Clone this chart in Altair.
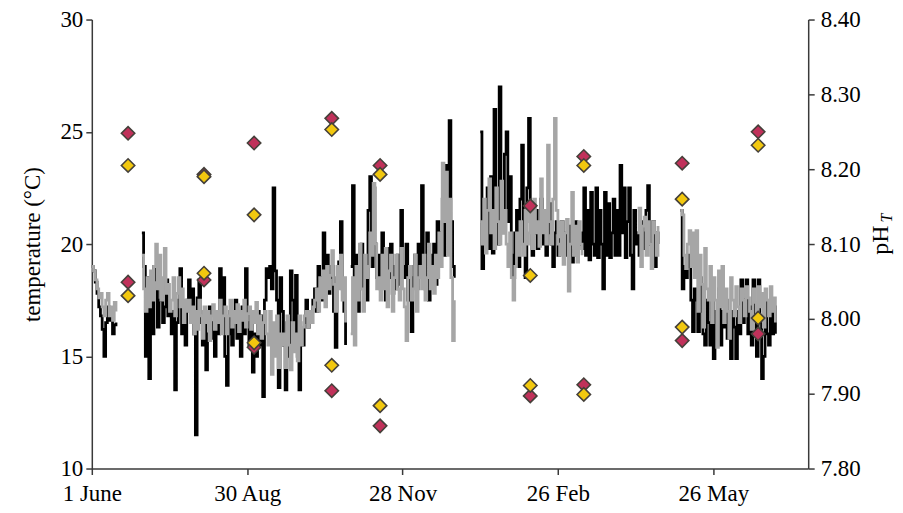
import altair as alt
import pandas as pd

# ---------------- axis ticks / labels ----------------
TICK_DAYS = [0, 90, 180, 270, 360]
TICK_LABELS = ["1 June", "30 Aug", "28 Nov", "26 Feb", "26 May"]
X_DOMAIN = [0, 415]
TEMP_TICKS = [10, 15, 20, 25, 30]
PH_TICKS = [7.8, 7.9, 8.0, 8.1, 8.2, 8.3, 8.4]

# ---------------- logger series (temperature, deg C), daily ----------------
BLACK_STARTS = [0, 29, 150, 225, 341]
BLACK_SEGMENTS = [
    [19.0, 18.8, 18.3, 17.8, 17.2, 16.8, 16.2, 15.0, 16.5, 17.2, 16.6, 16.9, 16.0, 16.4, 16.5],
    [20.5, 19.0, 15.0, 18.5, 14.0,
     17.5, 16.0, 19.0,
     18.4, 16.3, 17.5, 18.0, 16.5, 17.2, 18.4, 16.8, 17.0,
     16.0, 17.0, 13.5, 16.5,
     17.5, 18.9, 16.0, 17.0, 15.5, 17.5,
     18.4, 17.0, 18.0, 16.0, 11.5, 17.6, 18.4,
     16.5, 15.5, 17.0, 14.4, 16.0, 17.2, 15.8, 16.5, 15.0, 17.0, 16.0, 18.9, 16.5, 18.5, 15.0, 13.7,
     16.0, 17.0, 15.5, 16.5, 17.5, 15.8, 16.8, 15.0, 17.2, 16.0, 18.9, 16.5, 15.5, 17.0, 14.3, 16.0,
     15.0, 17.0, 15.5, 16.8, 13.2, 17.5, 18.9,
     18.5, 19.0, 18.0, 22.5, 18.8, 17.5, 13.6, 18.5, 17.0,
     15.5, 13.5, 16.5, 15.0, 18.8, 17.5, 16.0, 18.6, 15.0, 13.5, 16.0, 15.5,
     16.5, 17.5, 16.3, 17.0, 16.5, 17.5,
     18.0, 17.0, 19.0, 18.5, 17.5, 20.5, 18.0, 19.5, 17.8, 18.5, 19.0, 17.0, 15.4, 18.5, 19.2, 21.0,
     18.0, 17.0, 15.5],
    [19.0, 22.6, 18.0, 19.5, 17.0, 18.5, 20.0, 18.0, 19.0, 17.5,
     21.5, 23.0, 19.0, 22.5, 20.0, 18.5,
     19.5, 18.0, 20.5, 19.0, 17.5, 19.8, 18.5, 20.0, 17.8, 19.0, 18.0, 19.5, 18.2,
     21.5, 19.0, 18.5, 20.0, 17.5, 19.0, 16.1, 18.5, 19.5, 18.0, 20.0, 18.5, 22.6,
     19.0, 18.0, 20.5, 17.5, 19.5, 18.5, 20.0, 18.2, 21.0, 19.5,
     20.5, 22.0, 19.5, 23.5, 20.0, 25.5, 21.0, 19.0, 18.5],
    [25.0, 18.9, 21.5, 20.0, 22.5, 19.8, 23.0, 19.6, 26.0, 21.0, 20.0, 27.0, 22.0, 20.5,
     24.0, 25.0, 21.0, 23.0, 19.5, 18.5, 20.5, 21.5, 19.0, 22.0, 24.4, 20.0, 18.5, 22.5,
     25.6, 21.0, 19.5, 20.5, 21.5, 19.8, 20.8, 22.0, 20.0, 21.0, 19.5, 20.5, 21.8, 20.0,
     19.0, 20.5, 21.0, 19.5, 20.2, 21.0, 19.8, 20.5, 19.5, 20.8, 20.0, 19.2, 20.5, 21.0,
     19.5, 20.0, 20.5, 19.8,
     22.5, 19.5, 21.5, 19.3, 22.3, 20.0, 19.5, 22.5, 19.4, 21.5, 20.0, 18.0, 22.3, 19.5,
     21.8, 19.4, 20.5, 22.0, 19.5, 21.5, 19.5, 23.5, 20.5, 22.5, 19.4, 21.0, 22.5, 19.5,
     18.0, 21.5, 20.0,
     20.5, 19.5, 21.0, 19.8, 20.5, 21.5, 22.6, 20.0, 19.5, 21.0, 19.0, 20.5, 20.0],
    [21.5, 18.0, 19.0, 18.5, 19.5, 19.0, 17.5, 16.1,
     18.0, 17.5, 16.1, 18.5, 17.0, 16.0, 15.5, 17.5, 16.5,
     15.5, 18.0, 14.9, 17.0, 16.0, 18.0, 15.5, 17.0, 16.3, 17.5, 15.8, 16.5, 14.9, 17.0, 16.3,
     14.9, 17.0, 16.0, 18.4, 16.5, 17.5, 18.4, 16.0, 17.2, 15.5, 18.4, 16.8, 15.0, 18.4,
     16.5, 14.0, 15.0, 17.5, 16.0, 15.5, 17.0, 16.0, 17.2, 16.0],
]

GREY_STARTS = [0, 29, 150, 225, 316, 341]
GREY_SEGMENTS = [
    [19.0, 18.8, 18.4, 18.0, 17.6, 17.8, 17.2, 16.8, 17.5, 17.8, 16.8, 17.2, 16.6, 17.4, 17.0],
    [19.5, 18.0, 17.0, 18.5, 17.2, 18.8, 17.5, 19.0,
     20.0, 18.0, 19.5, 17.5, 18.5, 19.8, 17.8, 18.2, 17.0,
     17.5, 18.5, 16.8, 17.8, 18.5, 17.2, 18.0, 16.5, 17.5, 17.0,
     17.5, 16.5, 17.2, 16.0, 17.0, 16.2, 17.5, 16.8, 15.8, 17.2, 16.5, 17.0, 15.7, 16.8, 17.3,
     16.2, 17.0, 16.5, 17.5, 16.0, 16.8, 17.2, 16.0,
     16.8, 17.5, 16.3, 17.0, 16.5, 17.3, 16.1, 17.0, 16.6, 17.5, 16.3, 16.9, 17.2, 16.2, 17.0,
     16.5, 17.4, 16.0, 16.8, 15.8, 16.5, 17.0, 16.0,
     15.5, 17.0, 14.2, 16.5, 15.0, 16.8, 14.5, 16.0, 15.5,
     16.0, 14.5, 16.8, 15.5, 14.4, 16.5, 15.2, 16.0, 14.8, 16.8, 15.5, 16.3,
     16.8, 17.0, 16.3, 17.0, 16.5, 17.2,
     17.5, 18.0, 17.0, 18.5, 17.6, 18.8, 17.2, 19.0, 18.0, 18.6, 19.7, 18.2, 17.0, 19.0, 18.0,
     19.5, 17.5, 18.5, 16.5],
    [16.0, 18.5, 15.5, 19.0, 17.5, 20.0, 18.0, 17.0, 19.5, 18.5,
     19.0, 20.5, 19.5, 22.7, 20.0, 18.0,
     18.5, 17.5, 19.5, 18.0, 19.8, 17.2, 18.8, 19.5, 17.0, 18.5, 19.5, 18.0, 17.5,
     19.8, 18.0, 17.2, 15.7, 18.5, 19.0, 17.5, 18.0, 19.5, 17.0, 18.5, 19.0, 18.0,
     19.5, 17.5, 18.5, 20.0, 18.0, 19.0, 17.8, 19.5, 18.5, 20.5,
     19.0, 23.6, 21.0, 23.2, 19.5, 22.0, 18.5, 15.7, 17.5],
    [21.0, 20.0, 22.0, 19.6, 21.5, 22.9, 20.5, 21.5, 19.8, 22.5, 21.0, 20.0, 22.8, 20.5,
     21.5, 20.0, 19.0, 20.5, 18.5, 17.5, 19.0, 20.5, 19.5, 21.0, 20.0, 19.5, 21.5, 20.0,
     20.5, 21.5, 19.8, 22.0, 20.5, 21.0, 19.9, 22.9, 20.5, 21.5, 20.0, 24.4, 21.0, 20.0,
     22.0, 25.6, 21.5, 20.0, 19.5, 21.0, 19.1, 20.5, 21.1, 17.9, 20.0, 22.3, 19.5, 20.8,
     19.2, 21.0, 20.0, 19.5],
    [20.5, 21.6, 19.0, 20.8, 21.2, 19.5, 21.0, 20.0, 18.9, 21.0, 20.5, 19.5, 20.8],
    [21.5, 21.3, 19.5, 18.9, 20.0, 20.6, 19.0, 20.5,
     18.5, 20.6, 17.0, 19.5, 18.2, 16.3, 19.8, 18.0, 17.5,
     19.0, 16.5, 18.5, 17.5, 15.4, 18.8, 17.2, 19.0, 16.5, 18.0, 17.0, 15.8, 18.5, 17.5, 16.8,
     18.1, 17.2, 16.5, 18.0, 17.5, 16.8, 18.1, 17.6, 17.0, 16.2, 18.0, 17.4, 16.6, 18.1,
     17.2, 17.8, 16.3, 18.0, 17.5, 16.8, 18.1, 17.0, 17.6, 16.5],
]

# ---------------- discrete samples (pH_T) ----------------
SAMPLE_DAYS = [21, 65, 94, 139, 167, 254, 285, 342, 386]
RED_HIGH = [8.248, 8.193, 8.235, 8.268, 8.205, 8.151, 8.217, 8.208, 8.250]
RED_LOW = [8.049, 8.052, 7.962, 7.904, 7.857, 7.897, 7.912, 7.971, 7.980]
YELLOW_HIGH = [8.205, 8.190, 8.139, 8.253, 8.193, 8.058, 8.205, 8.160, 8.232]
YELLOW_LOW = [8.031, 8.061, 7.968, 7.938, 7.884, 7.911, 7.899, 7.989, 8.001]

FONT = "Liberation Serif"


def seg_frame(starts, segments):
    rows = []
    for k, (s, vals) in enumerate(zip(starts, segments)):
        for i, v in enumerate(vals):
            rows.append({"day": s + i, "temp": v, "seg": k})
    return pd.DataFrame(rows)


black_df = seg_frame(BLACK_STARTS, BLACK_SEGMENTS)
grey_df = seg_frame(GREY_STARTS, GREY_SEGMENTS)
red_df = pd.DataFrame({"day": SAMPLE_DAYS * 2, "ph": RED_HIGH + RED_LOW})
yellow_df = pd.DataFrame({"day": SAMPLE_DAYS * 2, "ph": YELLOW_HIGH + YELLOW_LOW})

label_expr = "[" + ",".join("'%s'" % s for s in TICK_LABELS) + "][round(datum.value/90)]"

x_enc = alt.X(
    "day:Q",
    scale=alt.Scale(domain=X_DOMAIN, nice=False, zero=False),
    axis=alt.Axis(values=TICK_DAYS, labelExpr=label_expr, title=None, grid=False,
                  labelPadding=8, labelFlush=False, labelOverlap=False),
)
y_temp = alt.Y(
    "temp:Q",
    scale=alt.Scale(domain=[10, 30], nice=False, zero=False),
    axis=alt.Axis(values=TEMP_TICKS, title="temperature (°C)", orient="left", grid=False,
                  labelPadding=3, titlePadding=15),
)
y_ph = alt.Y(
    "ph:Q",
    scale=alt.Scale(domain=[7.8, 8.4], nice=False, zero=False),
    axis=alt.Axis(values=PH_TICKS, format=".2f", title=None, orient="right", grid=False,
                  labelPadding=6),
)

black_line = alt.Chart(black_df).mark_line(
    interpolate="step-after", color="#000000", strokeWidth=2.8
).encode(x=x_enc, y=y_temp, detail="seg:N")

grey_line = alt.Chart(grey_df).mark_line(
    interpolate="step-after", color="#a6a6a6", strokeWidth=2.8
).encode(x=x_enc, y=y_temp, detail="seg:N")

red_pts = alt.Chart(red_df).mark_point(
    shape="diamond", filled=True, fill="#c0315a", stroke="#45403a", strokeWidth=1.6,
    size=180, opacity=1
).encode(x=x_enc, y=y_ph)

yellow_pts = alt.Chart(yellow_df).mark_point(
    shape="diamond", filled=True, fill="#f2c80f", stroke="#45403a", strokeWidth=1.6,
    size=180, opacity=1
).encode(x=x_enc, y=y_ph)

temp_layer = alt.layer(black_line, grey_line)
ph_layer = alt.layer(red_pts, yellow_pts)

ph_title = alt.Chart(pd.DataFrame({"t": ["pH"]})).mark_text(
    angle=270, font=FONT, fontSize=24, align="center", baseline="middle", color="#000000"
).encode(text="t:N", x=alt.value(791), y=alt.value(221))

ph_sub = alt.Chart(pd.DataFrame({"t": ["T"]})).mark_text(
    angle=270, font=FONT, fontSize=16, fontStyle="italic", align="center", baseline="middle",
    color="#000000"
).encode(text="t:N", x=alt.value(797), y=alt.value(199))

chart = alt.layer(temp_layer, ph_layer, ph_title, ph_sub).resolve_scale(
    y="independent"
).properties(
    width=718, height=450, padding={"left": 14, "top": 0, "right": 0, "bottom": 0}
).configure_view(stroke=None).configure_axis(
    domainColor="#3a3a3a", domainWidth=1.5, tickColor="#3a3a3a", tickWidth=1.5, tickSize=6,
    labelFont=FONT, labelFontSize=23, labelColor="#000000",
    titleFont=FONT, titleFontSize=23, titleFontWeight="normal", titleColor="#000000",
    grid=False,
)

chart.save("out.html", embed_options={"renderer": "svg", "actions": False})
